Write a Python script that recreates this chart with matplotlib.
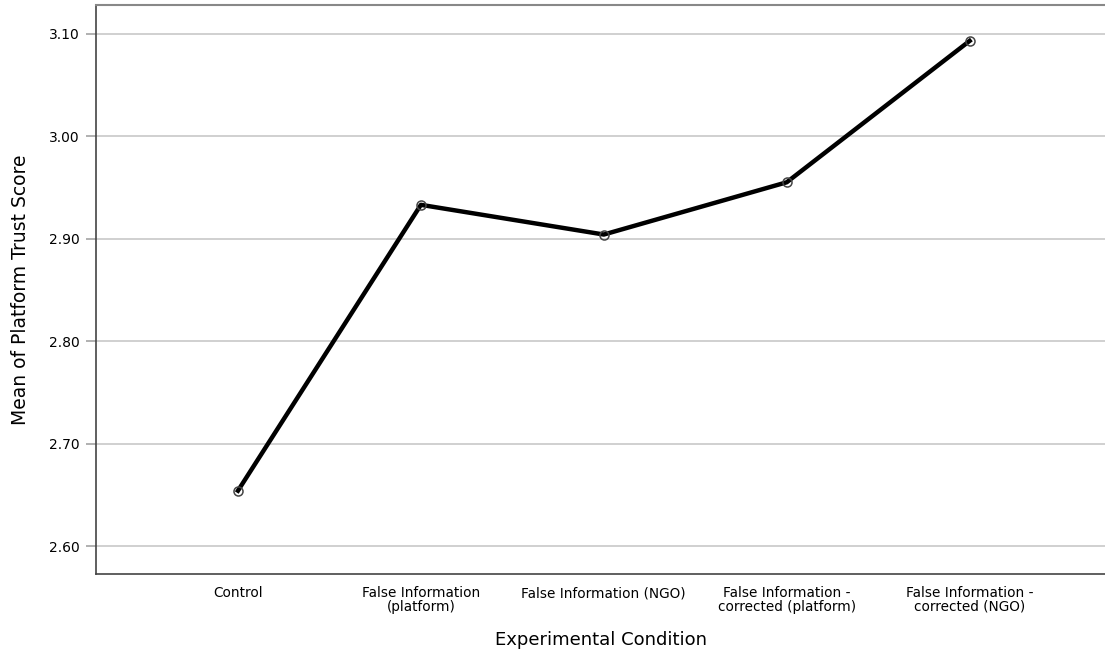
import matplotlib
matplotlib.use("Agg")
import matplotlib.pyplot as plt

conditions = [
    "Control",
    "False Information\n(platform)",
    "False Information (NGO)",
    "False Information -\ncorrected (platform)",
    "False Information -\ncorrected (NGO)",
]
mean_trust = [2.654, 2.933, 2.904, 2.955, 3.093]
y_ticks = [2.60, 2.70, 2.80, 2.90, 3.00, 3.10]

fig = plt.figure(figsize=(11.05, 6.53), dpi=100)
ax = fig.add_axes([0.0869, 0.121, 0.9131, 0.8713])

ax.set_axisbelow(True)
ax.grid(axis="y", color="#c8c8c8", linewidth=1.2)

x = list(range(len(conditions)))
ax.plot(x, mean_trust, color="black", linewidth=3.2, zorder=3)
ax.plot(x, mean_trust, linestyle="none", marker="o", markersize=6.5,
        markerfacecolor="none", markeredgecolor="#444444",
        markeredgewidth=1.1, zorder=4)

ax.set_xlim(-0.776, 4.74)
ax.set_ylim(2.5727, 3.128)
ax.set_xticks(x)
ax.set_xticklabels(conditions, fontsize=9.8, linespacing=0.95)
ax.set_yticks(y_ticks)
ax.set_yticklabels([f"{v:.2f}" for v in y_ticks], fontsize=10)

ax.tick_params(axis="x", length=0, pad=9)
ax.tick_params(axis="y", direction="out", length=7.5, color="#b0b0b0",
               width=1.4, pad=4)

ax.spines["right"].set_visible(False)
ax.spines["top"].set_color("#888888")
ax.spines["top"].set_linewidth(1.5)
ax.spines["left"].set_color("#444444")
ax.spines["bottom"].set_color("#444444")
ax.spines["left"].set_linewidth(1.2)
ax.spines["bottom"].set_linewidth(1.2)

ax.set_xlabel("Experimental Condition", fontsize=13, labelpad=12)
ax.set_ylabel("Mean of Platform Trust Score", fontsize=13.5, labelpad=14)

fig.savefig("out.png", dpi=100)
plt.close(fig)
